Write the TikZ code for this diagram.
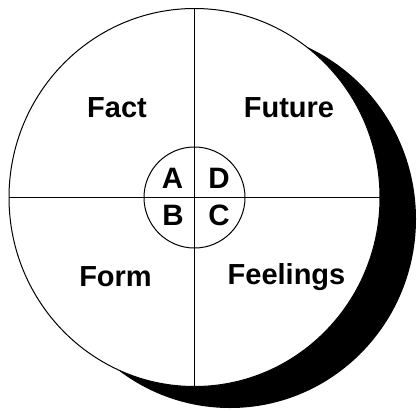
\documentclass[tikz,border=0pt]{standalone}
\usepackage{fontspec}
\setmainfont{Liberation Sans}
\usetikzlibrary{positioning}

\begin{document}
\begin{tikzpicture}[x=1pt,y=-1pt,
    quadlabel/.style={anchor=base,inner sep=0pt,font=\fontsize{29}{32}\selectfont\bfseries},
    corelabel/.style={anchor=base,inner sep=0pt,font=\fontsize{29.5}{32}\selectfont\bfseries},
    spoke/.style={line width=1.3pt}]
  \useasboundingbox (0,0) rectangle (417,410);
  % shadow and wheel
  \fill[black] (230,219) ellipse [x radius=186, y radius=189];
  \draw[fill=white,line width=1pt] (194.5,197.5) ellipse [x radius=185.5, y radius=189];
  \coordinate (top) at (194.5,8.5);
  \coordinate (bottom) at (194.5,386.5);
  \coordinate (left) at (9,197.5);
  \coordinate (right) at (380,197.5);
  \draw[spoke] (top) -- (bottom);
  \draw[spoke] (left) -- (right);
  \draw[line width=1pt] (194.5,197.5) circle [radius=50.5];
  % quadrants
  \node[quadlabel] (fact) at (117,117) {Fact};
  \node[quadlabel] (future) at (289,117.5) {Future};
  \node[quadlabel] (form) at (115.5,286) {Form};
  \node[quadlabel] (feelings) at (286.5,284) {Feelings};
  % core letters
  \node[corelabel] (a) at (172.5,188) {A};
  \node[corelabel] (d) at (219,188) {D};
  \node[corelabel] (b) at (173,225) {B};
  \node[corelabel] (c) at (219,225) {C};
\end{tikzpicture}
\end{document}
